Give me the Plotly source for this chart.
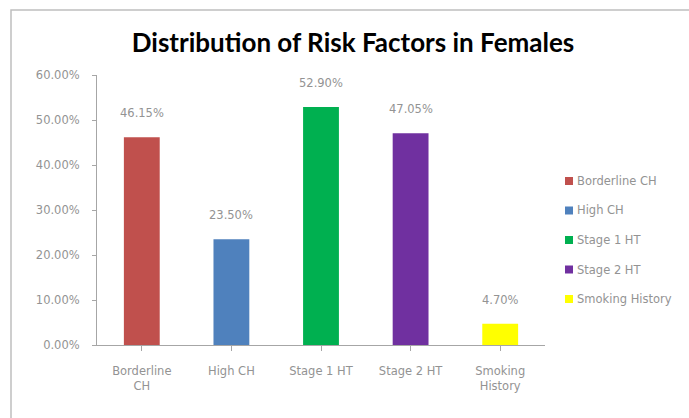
import plotly.graph_objects as go

categories = ["Borderline CH", "High CH", "Stage 1 HT", "Stage 2 HT", "Smoking History"]
tick_labels = ["Borderline<br>CH", "High CH", "Stage 1 HT", "Stage 2 HT", "Smoking<br>History"]
values = [0.4615, 0.2350, 0.5290, 0.4705, 0.0470]
colors = ["#C0504D", "#4F81BD", "#00B050", "#7030A0", "#FFFF00"]
y_ticks = [0, 0.1, 0.2, 0.3, 0.4, 0.5, 0.6]

W, H = 689, 418
GRAY = "#939393"
AXIS = "#a6a6a6"
FONT = "DejaVu Sans"
TITLE_FONT = "Lato"
SMALL = 11.5

fig = go.Figure()
for i, (cat, val, col) in enumerate(zip(categories, values, colors)):
    fig.add_trace(go.Bar(
        x=[i], y=[val], name=cat, marker=dict(color=col, line=dict(width=0)),
        width=0.4, showlegend=False,
    ))
    fig.add_annotation(
        x=i, y=val, text=f"{val*100:.2f}%", showarrow=False,
        yshift=24, font=dict(family=FONT, size=SMALL, color=GRAY),
    )

# legend: small colour squares with the category name beside them
shapes = []
legend_x = 565
legend_top = 181
legend_step = 29.5
for k, (cat, col) in enumerate(zip(categories, colors)):
    cy = legend_top + k * legend_step
    shapes.append(dict(
        type="rect", xref="paper", yref="paper",
        x0=(legend_x - 97) / 448, x1=(legend_x + 8 - 97) / 448,
        y0=(345 - cy - 4) / 270, y1=(345 - cy + 4) / 270,
        fillcolor=col, line=dict(width=0),
    ))
    fig.add_annotation(
        xref="paper", yref="paper",
        x=(legend_x + 10 - 97) / 448, y=(345 - cy) / 270,
        xanchor="left", yanchor="middle", showarrow=False, text=cat,
        font=dict(family=FONT, size=SMALL, color=GRAY),
    )

# outer chart border (runs past the right and bottom edges of the page)
shapes.append(dict(
    type="rect", xref="paper", yref="paper",
    x0=-86 / 448, x1=(720 - 97) / 448, y0=-0.5, y1=(345 - 10) / 270,
    line=dict(color="#bfbfbf", width=1.5), fillcolor="rgba(0,0,0,0)", layer="below",
))

fig.update_layout(
    width=W, height=H,
    paper_bgcolor="white", plot_bgcolor="white",
    margin=dict(l=97, r=144, t=75, b=73),
    barmode="overlay",
    showlegend=False,
    title=dict(
        text="<b>Distribution of Risk Factors in Females</b>",
        x=353 / W, xanchor="center", y=1 - 43 / H, yanchor="middle",
        font=dict(family=TITLE_FONT, size=26, color="black"),
    ),
    xaxis=dict(
        tickmode="array", tickvals=list(range(len(categories))), ticktext=tick_labels,
        range=[-0.5, len(categories) - 0.5],
        showline=True, linecolor=AXIS, linewidth=1,
        ticks="outside", tickson="boundaries", ticklen=5, tickcolor=AXIS,
        tickfont=dict(family=FONT, size=SMALL, color=GRAY),
        showgrid=False, zeroline=False, ticklabelstandoff=10,
    ),
    yaxis=dict(
        range=[0, 0.6], tickvals=y_ticks, tickformat=".2%",
        showline=True, linecolor=AXIS, linewidth=1,
        ticks="outside", ticklen=4, tickcolor=AXIS,
        tickfont=dict(family=FONT, size=SMALL, color=GRAY),
        showgrid=False, zeroline=False, ticklabelstandoff=10,
    ),
    shapes=shapes,
)

fig.write_html("out.html")
